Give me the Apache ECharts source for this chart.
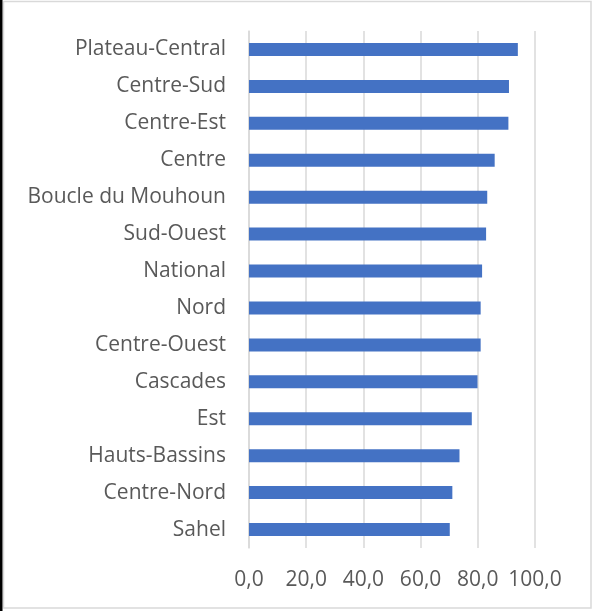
<!DOCTYPE html>
<html>
<head>
<meta charset="utf-8">
<script src="https://cdn.jsdelivr.net/npm/echarts@6/dist/echarts.min.js"></script>
<style>
html,body{margin:0;padding:0;background:#fff;}
#c{width:600px;height:611px;}
</style>
</head>
<body>
<div id="c"></div>
<script>
// Categories listed bottom to top (as drawn by ECharts category axis)
var categories = ["Sahel","Centre-Nord","Hauts-Bassins","Est","Cascades","Centre-Ouest","Nord","National","Sud-Ouest","Boucle du Mouhoun","Centre","Centre-Est","Centre-Sud","Plateau-Central"];
var values = [70.2, 71.1, 73.6, 77.9, 79.9, 81.0, 81.0, 81.5, 82.9, 83.3, 85.9, 90.7, 90.9, 94.0];
var xTicks = [0, 20, 40, 60, 80, 100];

var chart = echarts.init(document.getElementById('c'), null, {renderer:'canvas'});
var font = '"Open Sans", "Liberation Sans", sans-serif';
chart.setOption({
  animation: false,
  backgroundColor: '#ffffff',
  grid: {left: 249, right: 65, top: 31, bottom: 63, containLabel: false},
  xAxis: {
    type: 'value', min: xTicks[0], max: xTicks[xTicks.length-1], interval: 20,
    axisLine: {show: false}, axisTick: {show: false},
    splitLine: {show: true, lineStyle: {color: '#d9d9d9', width: 1.5}},
    axisLabel: {
      color: '#595959', fontSize: 21, fontFamily: font, margin: 22,
      formatter: function(v){ return v.toFixed(1).replace('.', ','); }
    }
  },
  yAxis: {
    type: 'category', data: categories,
    axisLine: {show: true, lineStyle: {color: '#d9d9d9', width: 1.5}},
    axisTick: {show: false},
    axisLabel: {color: '#595959', fontSize: 21, fontFamily: font, margin: 23, padding: [3, 0, 0, 0]}
  },
  series: [{
    type: 'bar', data: values, barWidth: 13,
    itemStyle: {color: '#4472C4'}
  }],
  graphic: [
    {type: 'rect', shape: {x: 3.5, y: 1.5, width: 587.5, height: 606.5}, style: {fill: null, stroke: '#d9d9d9', lineWidth: 1.5}, silent: true},
    {type: 'rect', shape: {x: 0, y: 0, width: 2.5, height: 611}, style: {fill: '#000'}, silent: true}
  ]
});
</script>
</body>
</html>
